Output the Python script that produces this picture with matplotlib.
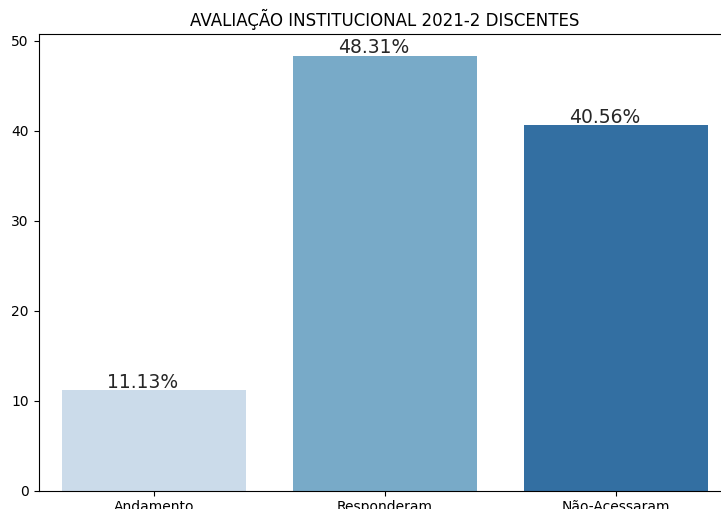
import matplotlib
matplotlib.use("Agg")
import matplotlib.pyplot as plt
import seaborn as sns

categorias = ["Andamento", "Responderam", "Não-Acessaram"]
percentuais = [11.13, 48.31, 40.56]
rotulos = ["11.13%", "48.31%", "40.56%"]

fig = plt.figure(figsize=(7.21, 5.09), dpi=100)
# the original image is cropped on the right, so the axes run past the figure edge
ax = fig.add_axes([38.5 / 721, 18.5 / 509, 693 / 721, 456.5 / 509])

sns.barplot(x=categorias, y=percentuais, hue=categorias, palette="Blues",
            legend=False, ax=ax)

for p, txt in zip(ax.patches, rotulos):
    ax.annotate(txt, (p.get_x() + p.get_width() / 2, p.get_height()),
                ha="center", va="bottom", fontsize=13.5, color="#262626",
                xytext=(-8, -1), textcoords="offset points")

ax.set_title("AVALIAÇÃO INSTITUCIONAL 2021-2 DISCENTES", fontsize=12)

fig.savefig("out.png", dpi=100)
